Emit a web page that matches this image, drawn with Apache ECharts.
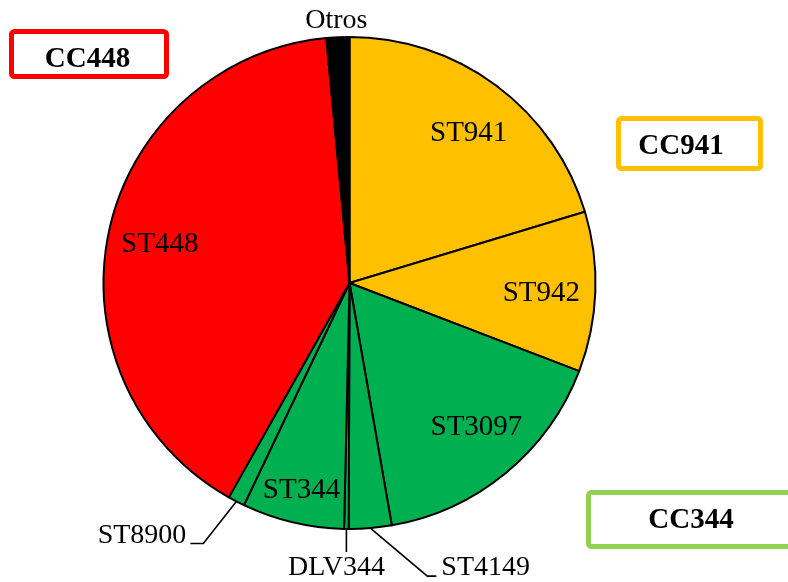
<!DOCTYPE html>
<html>
<head>
<meta charset="utf-8">
<script src="https://cdn.jsdelivr.net/npm/echarts@6/dist/echarts.min.js"></script>
<style>
  html, body { margin: 0; padding: 0; background: #ffffff; }
  #chart { width: 788px; height: 582px; }
</style>
</head>
<body>
<div id="chart"></div>
<script>
// Sequence types (clockwise from 12 o'clock) and their share of isolates (%)
const categories = ['ST941', 'ST942', 'ST3097', 'ST4149', 'DLV344', 'ST344', 'ST8900', 'ST448', 'Otros'];
const shares = [20.3, 10.5, 16.4, 2.8, 0.3, 6.7, 1.1, 40.3, 1.5];
// Clonal complex each sequence type belongs to
const complexOf = ['CC941', 'CC941', 'CC344', 'CC344', 'CC344', 'CC344', 'CC344', 'CC448', 'Otros'];
// Clonal complex tags shown in boxes
const complexTags = ['CC448', 'CC941', 'CC344'];

const sliceColor = { CC941: '#ffc000', CC344: '#00b050', CC448: '#ff0000', Otros: '#000000' };
const boxColor = { CC448: '#ff0000', CC941: '#ffc000', CC344: '#92d050' };

// In-slice labels and a small nudge for each
const insideNudge = {
  'ST941': [3, 7],
  'ST942': [-3, 3],
  'ST3097': [3, -6],
  'ST344': [-3, 18],
  'ST448': [1, 2]
};

// Callout geometry, relative to the slice edge point given by the pie layout
const callout = {
  'Otros':  { bend: [0, 0],    end: [0, 0],    text: [-1.5, -17], align: 'center' },
  'ST8900': { bend: [-33, 42], end: [-46, 42], text: [-50, 34],   align: 'right' },
  'DLV344': { bend: [0, 23],   end: [0, 23],   text: [-10, 39],   align: 'center' },
  'ST4149': { bend: [57, 48],  end: [66, 48],  text: [71, 39.5],  align: 'left' }
};

// Box frames for the complex tags
const boxLayout = {
  CC448: { rect: [11.5, 31.5, 155, 45], text: [87.5, 60] },
  CC941: { rect: [618.5, 118.5, 142, 50], text: [681, 147] },
  CC344: { rect: [588.5, 492.5, 230, 54], text: [691, 521] }
};

const FONT = 'Liberation Serif';
const CENTER = [349.5, 283];
const RADIUS = 246;

const pieData = categories.map((name, i) => ({
  name: name,
  value: shares[i],
  itemStyle: { color: sliceColor[complexOf[i]] },
  label: { show: !!callout[name] },
  labelLine: callout[name]
    ? { show: true, length: name === 'Otros' ? 0 : 10, length2: name === 'Otros' ? 0 : 10 }
    : { show: false }
}));

const labelData = categories.map((name, i) => ({
  name: name,
  value: shares[i],
  label: { show: !!insideNudge[name] }
}));

const graphics = [];
complexTags.forEach(tag => {
  const b = boxLayout[tag];
  graphics.push({
    type: 'rect',
    shape: { x: b.rect[0], y: b.rect[1], width: b.rect[2], height: b.rect[3], r: 3 },
    style: { fill: '#ffffff', stroke: boxColor[tag], lineWidth: 5 },
    z: 10
  });
  graphics.push({
    type: 'text',
    x: b.text[0],
    y: b.text[1],
    style: {
      text: tag,
      font: 'bold 29px "' + FONT + '"',
      fill: '#000000',
      align: 'center',
      verticalAlign: 'middle'
    },
    z: 11
  });
});

const chart = echarts.init(document.getElementById('chart'), null, { renderer: 'canvas' });

chart.setOption({
  backgroundColor: '#ffffff',
  animation: false,
  graphic: graphics,
  series: [
    {
      type: 'pie',
      center: CENTER,
      radius: [0, RADIUS],
      startAngle: 90,
      clockwise: true,
      avoidLabelOverlap: false,
      silent: true,
      data: pieData,
      itemStyle: { borderColor: '#000000', borderWidth: 2 },
      label: {
        position: 'outside',
        fontFamily: FONT,
        fontSize: 28,
        color: '#000000'
      },
      labelLine: { lineStyle: { color: '#000000', width: 1.6 }, smooth: false },
      labelLayout: function (params) {
        const c = callout[categories[params.dataIndex]];
        if (!c || !params.labelLinePoints) return {};
        const p0 = params.labelLinePoints[0];
        const pt = d => [p0[0] + d[0], p0[1] + d[1]];
        return {
          x: p0[0] + c.text[0],
          y: p0[1] + c.text[1],
          align: c.align,
          verticalAlign: 'middle',
          labelLinePoints: [p0, pt(c.bend), pt(c.end)]
        };
      }
    },
    {
      // Transparent ring that carries the in-slice labels at a wider radius
      type: 'pie',
      center: CENTER,
      radius: [138, RADIUS],
      startAngle: 90,
      clockwise: true,
      avoidLabelOverlap: false,
      silent: true,
      z: 5,
      data: labelData,
      itemStyle: { color: 'rgba(0,0,0,0)', borderWidth: 0 },
      label: {
        position: 'inside',
        fontFamily: FONT,
        fontSize: 29,
        color: '#000000'
      },
      labelLine: { show: false },
      labelLayout: function (params) {
        const n = insideNudge[categories[params.dataIndex]];
        return n ? { dx: n[0], dy: n[1] } : {};
      }
    }
  ]
});
</script>
</body>
</html>
